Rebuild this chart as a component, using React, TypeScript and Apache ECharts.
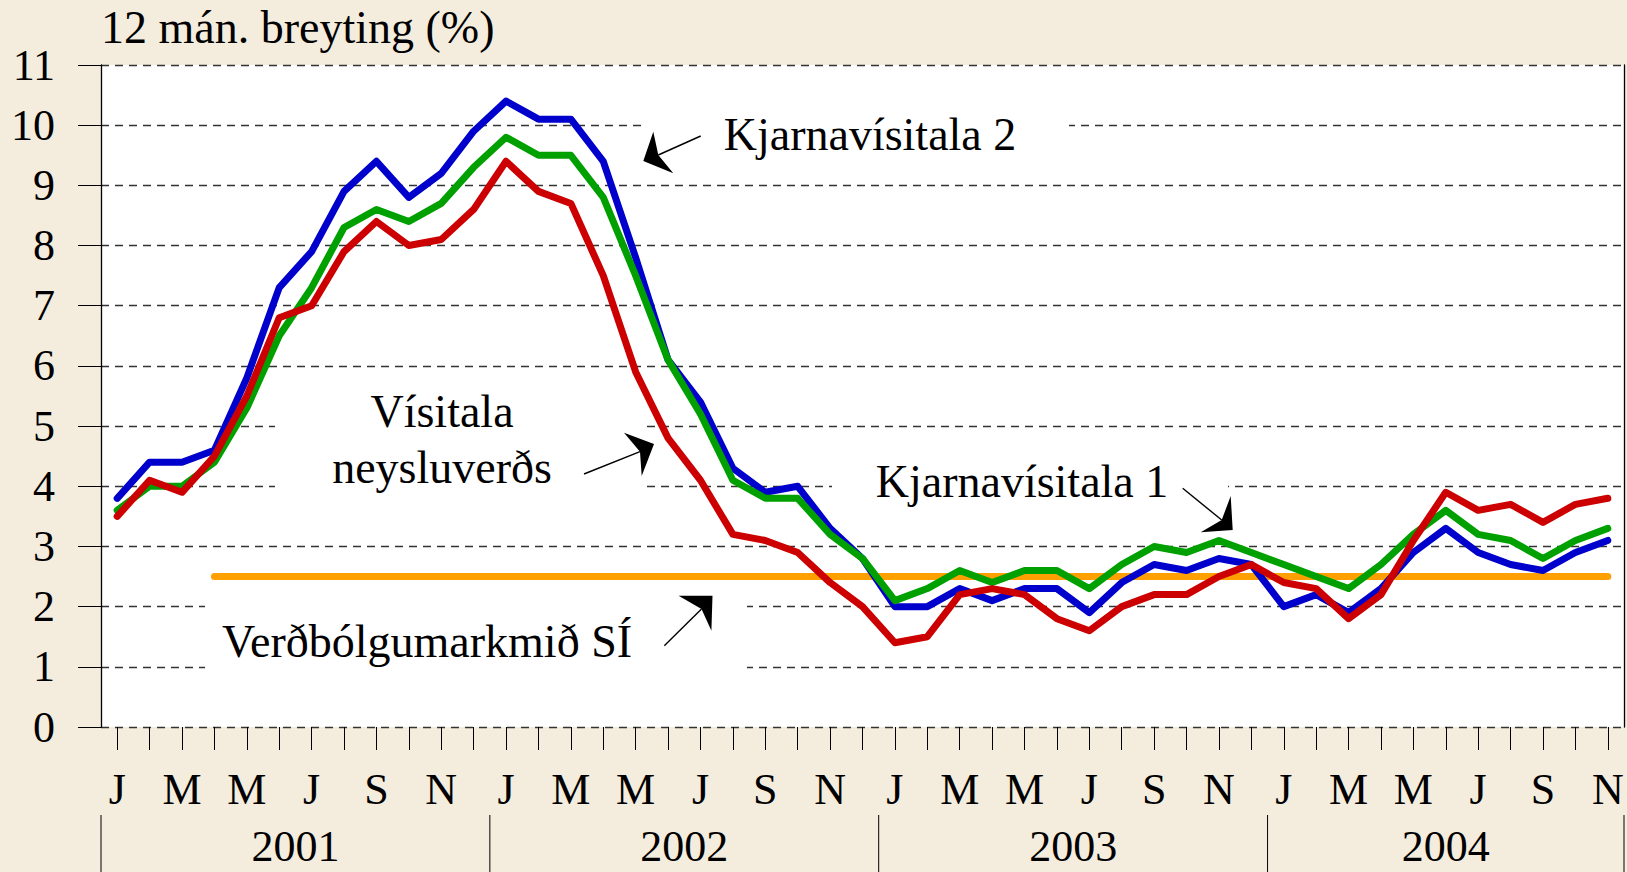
import React, { useEffect, useRef } from "react";
import * as echarts from "echarts";

// ---------- data ----------
const years = ["2001", "2002", "2003", "2004"];
const monthInitials = ["J", "F", "M", "A", "M", "J", "J", "A", "S", "O", "N", "D"];
const lastMonth = "2004-11";
const categories = years
  .flatMap((y) => monthInitials.map((_, i) => `${y}-${String(i + 1).padStart(2, "0")}`))
  .filter((c) => c <= lastMonth);

// Kjarnavísitala 2 (blue)
const kjarna2 = [
  3.8, 4.4, 4.4, 4.6, 5.8, 7.3, 7.9, 8.9, 9.4, 8.8, 9.2, 9.9,
  10.4, 10.1, 10.1, 9.4, 7.8, 6.1, 5.4, 4.3, 3.9, 4.0, 3.3, 2.8,
  2.0, 2.0, 2.3, 2.1, 2.3, 2.3, 1.9, 2.4, 2.7, 2.6, 2.8, 2.7,
  2.0, 2.2, 1.9, 2.3, 2.9, 3.3, 2.9, 2.7, 2.6, 2.9, 3.1,
];
// Kjarnavísitala 1 (green)
const kjarna1 = [
  3.6, 4.0, 4.0, 4.4, 5.3, 6.5, 7.3, 8.3, 8.6, 8.4, 8.7, 9.3,
  9.8, 9.5, 9.5, 8.8, 7.5, 6.1, 5.2, 4.1, 3.8, 3.8, 3.2, 2.8,
  2.1, 2.3, 2.6, 2.4, 2.6, 2.6, 2.3, 2.7, 3.0, 2.9, 3.1, 2.9,
  2.7, 2.5, 2.3, 2.7, 3.2, 3.6, 3.2, 3.1, 2.8, 3.1, 3.3,
];
// Vísitala neysluverðs (red)
const neysluverd = [
  3.5, 4.1, 3.9, 4.5, 5.5, 6.8, 7.0, 7.9, 8.4, 8.0, 8.1, 8.6,
  9.4, 8.9, 8.7, 7.5, 5.9, 4.8, 4.1, 3.2, 3.1, 2.9, 2.4, 2.0,
  1.4, 1.5, 2.2, 2.3, 2.2, 1.8, 1.6, 2.0, 2.2, 2.2, 2.5, 2.7,
  2.4, 2.3, 1.8, 2.2, 3.1, 3.9, 3.6, 3.7, 3.4, 3.7, 3.8,
];
// Verðbólgumarkmið SÍ (orange)
const markmid = [
  null, null, null, 2.5, 2.5, 2.5, 2.5, 2.5, 2.5, 2.5, 2.5, 2.5,
  2.5, 2.5, 2.5, 2.5, 2.5, 2.5, 2.5, 2.5, 2.5, 2.5, 2.5, 2.5,
  2.5, 2.5, 2.5, 2.5, 2.5, 2.5, 2.5, 2.5, 2.5, 2.5, 2.5, 2.5,
  2.5, 2.5, 2.5, 2.5, 2.5, 2.5, 2.5, 2.5, 2.5, 2.5, 2.5,
];

const yTitle = "12 mán. breyting (%)";

// ---------- style ----------
const FONT = '"Liberation Serif", "Times New Roman", serif';
const BG = "#F4EDDE";
const FS = 44;
const FS_NOTE = 46;

const annotations = [
  { text: "Kjarnavísitala 2", x: 870, y: 134 },
  { text: "Vísitala", x: 442, y: 411 },
  { text: "neysluverðs", x: 442, y: 467 },
  { text: "Kjarnavísitala 1", x: 1022, y: 481 },
  { text: "Verðbólgumarkmið SÍ", x: 427, y: 641 },
];
const whiteBoxes = [
  [642, 98, 427, 72],
  [275, 385, 368, 120],
  [832, 454, 396, 54],
  [205, 592, 542, 90],
];
const arrows = [
  { line: [700.7, 136, 658.3, 155], head: [[643.3, 161], [653.3, 131.7], [658.3, 155], [673.3, 173.3]] },
  { line: [584, 474, 640, 451.7], head: [[654, 444], [624, 432.7], [640, 451.7], [641.7, 476]] },
  { line: [1182.7, 488.3, 1221.7, 520], head: [[1232.7, 530], [1230.7, 496], [1221.7, 520], [1200.7, 532.3]] },
  { line: [664.3, 645.7, 701.5, 609], head: [[712.5, 595.7], [678.6, 595.7], [701.5, 609], [711.4, 630.7]] },
];

export default function App() {
  const ref = useRef<HTMLDivElement>(null);

  useEffect(() => {
    if (!ref.current) return;
    const chart = echarts.init(ref.current, null, { renderer: "svg" });

    const lineSeries = (name: string, data: any[], color: string, width: number) => ({
      name,
      type: "line",
      data,
      symbol: "none",
      connectNulls: false,
      lineStyle: { color, width, cap: "round", join: "round" },
      itemStyle: { color },
      emphasis: { disabled: true },
      z: 3,
    });

    const option: any = {
      animation: false,
      backgroundColor: BG,
      textStyle: { fontFamily: FONT },
      title: {
        text: yTitle,
        left: 101,
        top: 4,
        padding: 0,
        textStyle: { fontFamily: FONT, fontSize: FS_NOTE, fontWeight: "normal", color: "#000" },
      },
      grid: {
        left: 101,
        right: 3,
        top: 65,
        bottom: 145,
        show: true,
        backgroundColor: "#FFFFFF",
        borderWidth: 0,
      },
      xAxis: {
        type: "category",
        data: categories,
        boundaryGap: true,
        axisLine: { show: false },
        axisTick: {
          show: true,
          alignWithLabel: true,
          interval: 0,
          length: 23,
          lineStyle: { color: "#000", width: 1 },
        },
        axisLabel: {
          interval: 1,
          margin: 40,
          fontFamily: FONT,
          fontSize: FS,
          color: "#000",
          formatter: (v: string) => monthInitials[parseInt(v.slice(5), 10) - 1],
        },
        splitLine: { show: false },
      },
      yAxis: [
        {
          type: "value",
          min: 0,
          max: 11,
          interval: 1,
          axisLine: { show: true, lineStyle: { color: "#000", width: 1.3 } },
          axisTick: { show: true, length: 23, lineStyle: { color: "#000", width: 1 } },
          axisLabel: { margin: 46, fontFamily: FONT, fontSize: FS, color: "#000" },
          splitLine: { show: true, lineStyle: { color: "#333", width: 1.3, type: [8, 6] } },
        },
        {
          type: "value",
          position: "right",
          min: 0,
          max: 11,
          interval: 1,
          axisLine: { show: true, lineStyle: { color: "#000", width: 1.3 } },
          axisTick: { show: false },
          axisLabel: { show: false },
          splitLine: { show: false },
        },
      ],
      series: [
        lineSeries("Verðbólgumarkmið SÍ", markmid, "#FFA000", 7),
        lineSeries("Kjarnavísitala 2", kjarna2, "#0000CC", 7),
        lineSeries("Kjarnavísitala 1", kjarna1, "#00A000", 7),
        lineSeries("Vísitala neysluverðs", neysluverd, "#CC0000", 7),
      ],
    };

    chart.setOption(option);

    // year grouping under the month labels, computed from the axis scale
    const xAt = (i: number) => chart.convertToPixel({ xAxisIndex: 0 }, i) as number;
    const band = xAt(1) - xAt(0);
    const n = categories.length;
    const graphics: any[] = [];

    whiteBoxes.forEach(([x, y, w, h]) =>
      graphics.push({ type: "rect", z: 1, shape: { x, y, width: w, height: h }, style: { fill: "#FFFFFF" }, silent: true })
    );

    years.forEach((yr, k) => {
      const first = k * 12;
      const last = Math.min(first + 11, n - 1);
      const left = xAt(first) - band / 2;
      const right = xAt(last) + band / 2;
      graphics.push({
        type: "line",
        z: 5,
        shape: { x1: left, y1: 815, x2: left, y2: 872 },
        style: { stroke: "#000", lineWidth: 1 },
      });
      if (k === years.length - 1) {
        graphics.push({
          type: "line",
          z: 5,
          shape: { x1: right, y1: 815, x2: right, y2: 872 },
          style: { stroke: "#000", lineWidth: 1 },
        });
      }
      graphics.push({
        type: "text",
        z: 5,
        x: (left + right) / 2,
        y: 846,
        style: { text: yr, font: `${FS}px ${FONT}`, fill: "#000", align: "center", verticalAlign: "middle" },
      });
    });

    annotations.forEach((a) =>
      graphics.push({
        type: "text",
        z: 10,
        x: a.x,
        y: a.y,
        style: { text: a.text, font: `${FS_NOTE}px ${FONT}`, fill: "#000", align: "center", verticalAlign: "middle" },
      })
    );

    arrows.forEach((a) => {
      const [x1, y1, x2, y2] = a.line;
      graphics.push({ type: "line", z: 10, shape: { x1, y1, x2, y2 }, style: { stroke: "#000", lineWidth: 1.4 } });
      graphics.push({ type: "polygon", z: 10, shape: { points: a.head }, style: { fill: "#000" } });
    });

    chart.setOption({ graphic: graphics });

    return () => chart.dispose();
  }, []);

  return (
    <div
      ref={ref}
      style={{ position: "fixed", left: 0, top: 0, width: 1627, height: 872, background: BG }}
    />
  );
}
